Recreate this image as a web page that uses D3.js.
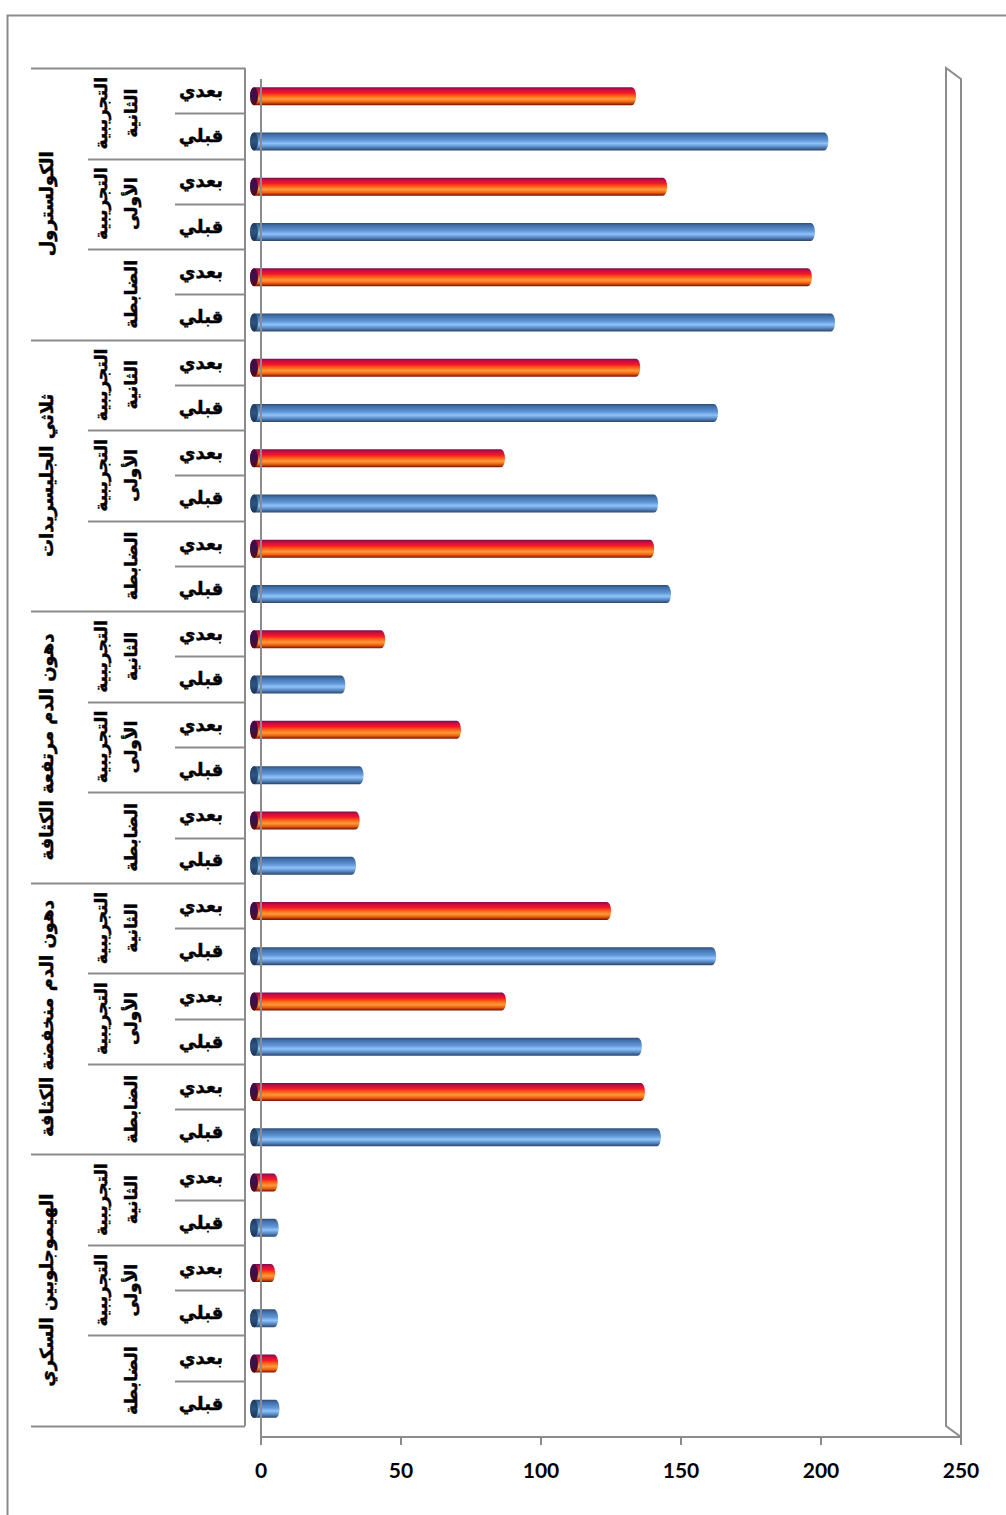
<!DOCTYPE html>
<html lang="ar">
<head>
    <meta charset="utf-8">
    <script src="https://d3js.org/d3.v7.min.js"></script>
    <title>Bar chart</title>
    <style>
        body { margin: 0; background: #fff; }
        svg { display: block; }
        .cat { font-family: "DejaVu Sans", sans-serif; font-weight: bold; fill: #000; stroke: #000; stroke-width: 0.45px; }
        .tick-label { font-family: Lato, "DejaVu Sans", sans-serif; font-weight: bold; font-size: 21px; fill: #000; }
    </style>
</head>
<body>
    <div id="container"></div>
    <script>
        // categories, top to bottom as in the picture
        const tests = ["الكولسترول", "ثلاثي الجليسريدات", "دهون الدم مرتفعة الكثافة", "دهون الدم منخفضة الكثافة", "الهيموجلوبين السكري"];
        const groups = [["التجريبية", "الثانية"], ["التجريبية", "الأولى"], ["الضابطة"]];
        const times = ["بعدي", "قبلي"];

        // values per test, per group (same order as above)
        const afterValues  = [135.0, 146.1, 197.8,  136.5, 88.2, 141.5,  45.4, 72.5, 36.3,  126.1, 88.6, 138.2,  7.0, 6.1, 7.2];
        const beforeValues = [203.7, 198.9, 206.1,  164.3, 142.9, 147.5,  31.2, 37.7, 35.0,  163.6, 137.1, 143.9,  7.4, 7.2, 7.7];

        const tickValues = [0, 50, 100, 150, 200, 250];

        const W = 1006, H = 1515;
        const depthX = 15, depthY = 11;   // 3d depth of the plot box

        // flat rows
        let rows = [];
        tests.forEach((t, ti) => {
            groups.forEach((g, gi) => {
                times.forEach((tm, k) => {
                    const idx = ti * groups.length + gi;
                    rows.push({
                        id: ti + "-" + gi + "-" + k,
                        test: ti, group: gi, time: tm,
                        value: k === 0 ? afterValues[idx] : beforeValues[idx],
                        after: k === 0
                    });
                });
            });
        });

        const svg = d3.select("#container")
                      .append("svg")
                      .attr("width", W)
                      .attr("height", H);

        const defs = svg.append("defs");
        function grad(id, stops) {
            const g = defs.append("linearGradient")
                          .attr("id", id)
                          .attr("x1", 0).attr("y1", 0)
                          .attr("x2", 0).attr("y2", 1);
            stops.forEach(s => g.append("stop").attr("offset", s[0]).attr("stop-color", s[1]));
        }
        grad("blue", [["0%", "#2d4e78"], ["15%", "#4271ab"], ["42%", "#5e93d3"], ["62%", "#8fc3fa"], ["80%", "#5b8cc8"], ["100%", "#2a4568"]]);
        grad("red", [["0%", "#7a0c52"], ["14%", "#cc0e3c"], ["32%", "#f2182a"], ["50%", "#ff6614"], ["66%", "#ff9a3c"], ["82%", "#ef6410"], ["100%", "#761006"]]);
        grad("blueCap", [["0%", "#1f3a5c"], ["50%", "#2f5585"], ["100%", "#1c3250"]]);
        grad("redCap", [["0%", "#4a0a40"], ["50%", "#3a1050"], ["100%", "#5a0a10"]]);

        // outer frame
        svg.append("path")
           .attr("d", "M7.5," + H + " V15.5 H" + W)
           .attr("fill", "none")
           .attr("stroke", "#8c8c8c")
           .attr("stroke-width", 2);

        const xScale = d3.scaleLinear().domain([0, 250]).range([261, 961]);
        const yScale = d3.scaleBand().domain(rows.map(d => d.id)).range([79, 1437]);
        const bw = yScale.bandwidth();
        const barH = 18;
        const shiftX = -7, shiftY = -5.5;   // bars sit half way into the depth
        const capR = 4;

        // right side wall
        const x250 = xScale(250);
        svg.append("path")
           .attr("d", "M" + x250 + ",79 L" + (x250 - depthX) + "," + (79 - depthY) +
                      " V" + (1437 - depthY) + " L" + x250 + ",1437 Z")
           .attr("fill", "none")
           .attr("stroke", "#8c8c8c")
           .attr("stroke-width", 2);

        // bars
        const bars = svg.append("g").selectAll("g")
                        .data(rows)
                        .enter()
                        .append("g");

        bars.append("rect")
            .attr("x", d => xScale(0) + shiftX - capR)
            .attr("y", d => yScale(d.id) + bw / 2 + shiftY - barH / 2)
            .attr("width", d => xScale(d.value) - xScale(0) + 2 * capR)
            .attr("height", barH)
            .attr("rx", capR)
            .attr("ry", barH / 2)
            .attr("fill", d => d.after ? "url(#red)" : "url(#blue)");

        bars.append("ellipse")
            .attr("cx", d => xScale(0) + shiftX)
            .attr("cy", d => yScale(d.id) + bw / 2 + shiftY)
            .attr("rx", capR)
            .attr("ry", barH / 2)
            .attr("fill", d => d.after ? "url(#redCap)" : "url(#blueCap)");

        // value axis
        svg.append("line")
           .attr("x1", xScale(0)).attr("x2", xScale(0))
           .attr("y1", 79).attr("y2", 1445)
           .attr("stroke", "#8c8c8c").attr("stroke-width", 2);
        svg.append("line")
           .attr("x1", xScale(0)).attr("x2", xScale(250))
           .attr("y1", 1437).attr("y2", 1437)
           .attr("stroke", "#8c8c8c").attr("stroke-width", 2);

        svg.selectAll(".tick")
           .data(tickValues)
           .enter()
           .append("line")
           .attr("class", "tick")
           .attr("x1", d => xScale(d)).attr("x2", d => xScale(d))
           .attr("y1", 1437).attr("y2", 1445)
           .attr("stroke", "#8c8c8c").attr("stroke-width", 2);

        svg.selectAll(".tick-label")
           .data(tickValues)
           .enter()
           .append("text")
           .attr("class", "tick-label")
           .attr("x", d => xScale(d))
           .attr("y", 1478)
           .attr("text-anchor", "middle")
           .text(d => d);

        // category table (sits on the back plane)
        const tY = id => yScale(id) - depthY;
        const tableRight = 245;
        const lines = svg.append("g")
                         .attr("stroke", "#8c8c8c")
                         .attr("stroke-width", 2);

        lines.append("line")
             .attr("x1", tableRight).attr("x2", tableRight)
             .attr("y1", 79 - depthY).attr("y2", 1437 - depthY);

        rows.forEach(d => {
            const y = Math.round(tY(d.id)) + 0.5;
            let x1 = 175;
            if (d.time === times[0] && d.group === 0) x1 = 31;
            else if (d.time === times[0]) x1 = 88;
            lines.append("line")
                 .attr("x1", x1).attr("x2", tableRight)
                 .attr("y1", y).attr("y2", y);
        });
        lines.append("line")
             .attr("x1", 31).attr("x2", tableRight)
             .attr("y1", 1437 - depthY + 0.5).attr("y2", 1437 - depthY + 0.5);

        // level 3: before / after
        svg.append("g").selectAll("text")
           .data(rows)
           .enter()
           .append("text")
           .attr("class", "cat")
           .attr("x", 201)
           .attr("y", d => tY(d.id) + bw / 2)
           .attr("dy", "0.35em")
           .attr("text-anchor", "middle")
           .attr("font-size", 18)
           .text(d => d.time);

        // level 2: groups (rotated)
        const grpRows = rows.filter(d => d.time === times[0]);
        const g2 = svg.append("g").selectAll("text")
                      .data(grpRows)
                      .enter()
                      .append("text")
                      .attr("class", "cat")
                      .attr("font-size", 17)
                      .attr("text-anchor", "middle")
                      .attr("transform", d => {
                          const cy = tY(d.id) + bw;
                          return "translate(137," + cy + ") rotate(-90)";
                      });
        g2.each(function(d) {
            const lab = groups[d.group];
            const t = d3.select(this);
            lab.forEach((s, i) => {
                t.append("tspan")
                 .attr("x", 0)
                 .attr("y", (i - lab.length + 1) * 30)
                 .text(s);
            });
        });

        // level 1: tests (rotated)
        const testRows = rows.filter(d => d.group === 0 && d.time === times[0]);
        svg.append("g").selectAll("text")
           .data(testRows)
           .enter()
           .append("text")
           .attr("class", "cat")
           .attr("font-size", 18)
           .attr("text-anchor", "middle")
           .attr("transform", d => "translate(53," + (tY(d.id) + bw * 3) + ") rotate(-90)")
           .text(d => tests[d.test]);
    </script>
</body>
</html>
